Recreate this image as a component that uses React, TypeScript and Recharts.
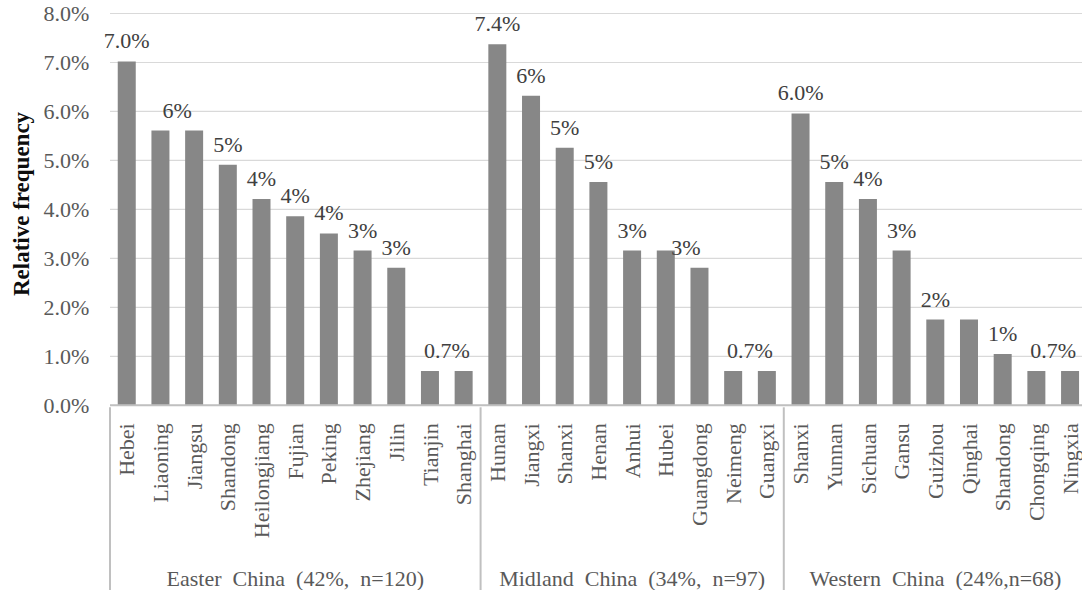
import React from 'react';
import { BarChart, Bar, XAxis, YAxis, CartesianGrid, LabelList } from 'recharts';

// Provinces grouped by region, with their share of all respondents (%).
const easternProvinces = ['Hebei', 'Liaoning', 'Jiangsu', 'Shandong', 'Heilongjiang', 'Fujian', 'Peking', 'Zhejiang', 'Jilin', 'Tianjin', 'Shanghai'];
const easternShare = [7.02, 5.61, 5.61, 4.91, 4.21, 3.86, 3.51, 3.16, 2.81, 0.7, 0.7];
const easternLabels = ['7.0%', '6%', '', '5%', '4%', '4%', '4%', '3%', '3%', '0.7%', ''];

const midlandProvinces = ['Hunan', 'Jiangxi', 'Shanxi', 'Henan', 'Anhui', 'Hubei', 'Guangdong', 'Neimeng', 'Guangxi'];
const midlandShare = [7.37, 6.32, 5.26, 4.56, 3.16, 3.16, 2.81, 0.7, 0.7];
const midlandLabels = ['7.4%', '6%', '5%', '5%', '3%', '', '3%', '0.7%', ''];

const westernProvinces = ['Shanxi', 'Yunnan', 'Sichuan', 'Gansu', 'Guizhou', 'Qinghai', 'Shandong', 'Chongqing', 'Ningxia'];
const westernShare = [5.96, 4.56, 4.21, 3.16, 1.75, 1.75, 1.05, 0.7, 0.7];
const westernLabels = ['6.0%', '5%', '4%', '3%', '2%', '', '1%', '0.7%', ''];

const regionTitles = ['Easter  China  (42%,  n=120)', 'Midland  China  (34%,  n=97)', 'Western  China  (24%,n=68)'];

const yTicks = [0, 1, 2, 3, 4, 5, 6, 7, 8];

// Horizontal nudge of a value label, in category steps (shared labels sit between two bars).
const easternLabelNudge = [0, 0.5, 0, 0, 0, 0, 0, 0, 0, 0.5, 0];
const midlandLabelNudge = [0, 0, 0, 0, 0, 0, -0.4, 0.5, 0];
const westernLabelNudge = [0, 0, 0, 0, 0, 0, 0, 0.5, 0];

// Layout
const CHART_W = 1088;
const CHART_H = 590;
const Y_AXIS_W = 110;
const MARGIN_RIGHT = 1;
const PLOT_TOP = 13.5;
const PLOT_BOTTOM = 405.3;
const FONT = '"Liberation Serif", "Times New Roman", serif';
const FONT_SIZE = 22;
const AXIS_TEXT = '#595959';
const LINE_GREY = '#c0c0c0';

type Row = {
  id: string;
  name: string;
  value: number;
  label: string;
  nudge: number;
  groupStart: boolean;
  groupSize: number;
  title: string;
};

const regions = [
  { names: easternProvinces, values: easternShare, labels: easternLabels, nudge: easternLabelNudge, title: regionTitles[0] },
  { names: midlandProvinces, values: midlandShare, labels: midlandLabels, nudge: midlandLabelNudge, title: regionTitles[1] },
  { names: westernProvinces, values: westernShare, labels: westernLabels, nudge: westernLabelNudge, title: regionTitles[2] },
];

const rows: Row[] = regions.flatMap((r, ri) =>
  r.names.map((name, i) => ({
    id: `${ri}-${name}`,
    name,
    value: r.values[i],
    label: r.labels[i],
    nudge: r.nudge[i],
    groupStart: i === 0,
    groupSize: r.names.length,
    title: r.title,
  }))
);

const STEP = (CHART_W - Y_AXIS_W - MARGIN_RIGHT) / rows.length;

const ValueLabel = (props: any) => {
  const { x, y, width, index } = props;
  const row = rows[index];
  if (!row || !row.label) return null;
  const cx = Number(x) + Number(width) / 2 + row.nudge * STEP;
  return (
    <text x={cx} y={Number(y) - 13} textAnchor="middle" fill="#404040" fontSize={FONT_SIZE} fontFamily={FONT}>
      {row.label}
    </text>
  );
};

const CategoryTick = (props: any) => {
  const { x, y, payload } = props;
  const row = rows[payload.index];
  if (!row) return null;
  const half = STEP / 2;
  return (
    <g>
      <text
        transform={`translate(${x},${y + 16}) rotate(-90)`}
        textAnchor="end"
        dominantBaseline="central"
        fill={AXIS_TEXT}
        fontSize={FONT_SIZE}
        fontFamily={FONT}
      >
        {row.name}
      </text>
      {row.groupStart && (
        <>
          <line x1={x - half} x2={x - half} y1={y} y2={CHART_H} stroke={LINE_GREY} strokeWidth={2} />
          <text
            x={x - half + row.groupSize * half}
            y={y + 179}
            textAnchor="middle"
            fill={AXIS_TEXT}
            fontSize={FONT_SIZE}
            fontFamily={FONT}
            xmlSpace="preserve"
            style={{ whiteSpace: 'pre' }}
          >
            {row.title}
          </text>
        </>
      )}
    </g>
  );
};

const YTitle = () => (
  <text
    transform={`translate(${21},${204}) rotate(-90)`}
    textAnchor="middle"
    dominantBaseline="central"
    fill="#0d0d0d"
    fontSize={23}
    fontWeight="bold"
    fontFamily={FONT}
  >
    Relative frequency
  </text>
);

export default function App() {
  return (
    <div style={{ position: 'absolute', left: 0, top: 0, width: 1082, height: 590, overflow: 'hidden', background: '#fff' }}>
      <BarChart
        width={CHART_W}
        height={CHART_H}
        data={rows}
        margin={{ top: PLOT_TOP, right: MARGIN_RIGHT, bottom: 0, left: 0 }}
        barCategoryGap="23%"
        style={{ fontFamily: FONT }}
      >
        <CartesianGrid horizontal vertical={false} stroke="#d9d9d9" strokeWidth={1.2} />
        <YAxis
          type="number"
          domain={[0, 8]}
          ticks={yTicks}
          width={Y_AXIS_W}
          axisLine={false}
          tickLine={false}
          tickSize={0}
          tickMargin={20.7}
          tickFormatter={(v: number) => `${v.toFixed(1)}%`}
          tick={{ fill: AXIS_TEXT, fontSize: FONT_SIZE, fontFamily: FONT }}
          label={<YTitle />}
        />
        <XAxis
          dataKey="id"
          type="category"
          interval={0}
          height={CHART_H - PLOT_BOTTOM}
          tickLine={false}
          tickSize={0}
          axisLine={{ stroke: LINE_GREY, strokeWidth: 2 }}
          tick={<CategoryTick />}
        />
        <Bar dataKey="value" fill="#878787" isAnimationActive={false}>
          <LabelList dataKey="value" content={<ValueLabel />} />
        </Bar>
      </BarChart>
    </div>
  );
}
